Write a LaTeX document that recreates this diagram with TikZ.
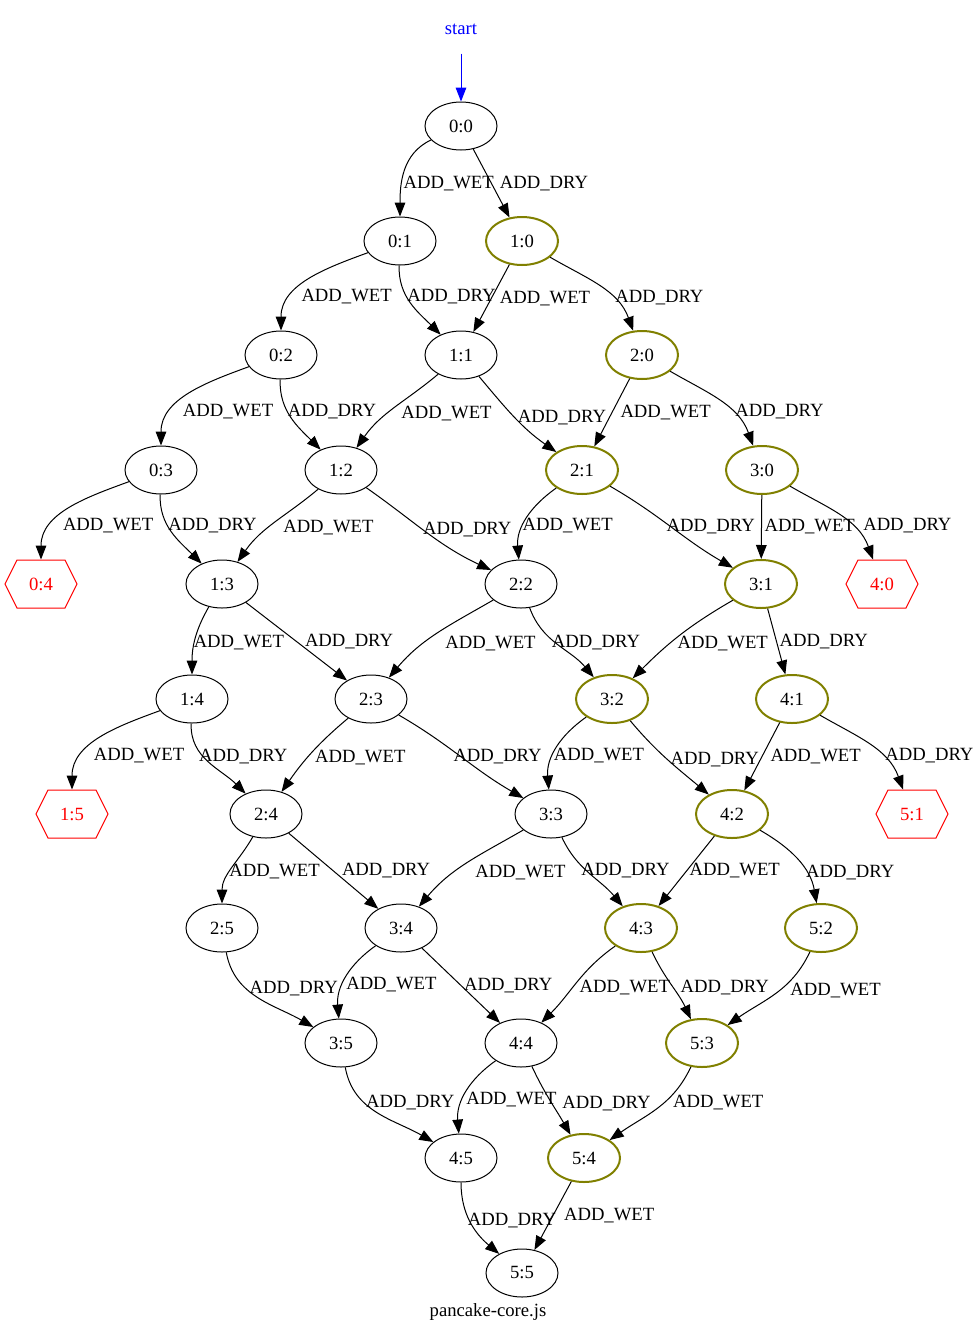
\documentclass[tikz,border=0pt]{standalone}
\usepackage{fontspec}
\setmainfont{Liberation Serif}
\usetikzlibrary{positioning, shapes.geometric, shapes.symbols, arrows.meta}
\definecolor{olivedone}{RGB}{128,128,0}

\begin{document}
\begin{tikzpicture}[x=0.75pt, y=0.75pt, line width=0.75pt, >={Triangle[length=10.5pt,width=8pt]}]
    \tikzstyle{every node}=[font=\fontsize{14}{16}\selectfont]
    \tikzstyle{state}=[draw, ellipse, minimum width=54pt, minimum height=36pt, inner sep=0pt]
    \tikzstyle{okstate}=[state, draw=olivedone, line width=1.5pt]
    \tikzstyle{badstate}=[signal, signal to=west and east, signal pointer angle=127, draw=red, text=red, minimum width=54pt, minimum height=36pt, inner sep=0pt]
    \tikzstyle{act}=[right, inner sep=2pt]
    \useasboundingbox (0,0) rectangle (976,-1332);

    \node (start)   [text=blue, minimum height=36pt, inner sep=0pt] at (461,-29) {start};
    \node (n00)     [state]    at (461,-126)  {0:0};
    \node (n01)     [state]    at (400,-241)  {0:1};
    \node (n10)     [okstate]  at (522,-241)  {1:0};
    \node (n02)     [state]    at (281,-355)  {0:2};
    \node (n11)     [state]    at (461,-355)  {1:1};
    \node (n20)     [okstate]  at (642,-355)  {2:0};
    \node (n03)     [state]    at (161,-470)  {0:3};
    \node (n12)     [state]    at (341,-470)  {1:2};
    \node (n21)     [okstate]  at (582,-470)  {2:1};
    \node (n30)     [okstate]  at (762,-470)  {3:0};
    \node (n04)     [badstate] at (41,-584)   {0:4};
    \node (n13)     [state]    at (222,-584)  {1:3};
    \node (n22)     [state]    at (521,-584)  {2:2};
    \node (n31)     [okstate]  at (761,-584)  {3:1};
    \node (n40)     [badstate] at (882,-584)  {4:0};
    \node (n14)     [state]    at (192,-699)  {1:4};
    \node (n23)     [state]    at (371,-699)  {2:3};
    \node (n32)     [okstate]  at (612,-699)  {3:2};
    \node (n41)     [okstate]  at (792,-699)  {4:1};
    \node (n15)     [badstate] at (72,-814)   {1:5};
    \node (n24)     [state]    at (266,-814)  {2:4};
    \node (n33)     [state]    at (551,-814)  {3:3};
    \node (n42)     [okstate]  at (732,-814)  {4:2};
    \node (n51)     [badstate] at (912,-814)  {5:1};
    \node (n25)     [state]    at (222,-928)  {2:5};
    \node (n34)     [state]    at (401,-928)  {3:4};
    \node (n43)     [okstate]  at (641,-928)  {4:3};
    \node (n52)     [okstate]  at (821,-928)  {5:2};
    \node (n35)     [state]    at (341,-1043) {3:5};
    \node (n44)     [state]    at (521,-1043) {4:4};
    \node (n53)     [okstate]  at (702,-1043) {5:3};
    \node (n45)     [state]    at (461,-1158) {4:5};
    \node (n54)     [okstate]  at (584,-1158) {5:4};
    \node (n55)     [state]    at (522,-1273) {5:5};
    \node (caption)            at (488,-1312) {pancake-core.js};

    \draw [->, blue] (start) -- (n00);

    % row 0 -> 1
    \draw [->] (n00) to[out=205,in=90]  node[act,pos=0.65,xshift=-1pt]{ADD\_WET} (n01);
    \draw [->] (n00) --                 node[act,xshift=4pt]{ADD\_DRY} (n10);
    % row 1 -> 2
    \draw [->] (n01) to[out=200,in=90]  node[act,pos=0.7,xshift=5pt]{ADD\_WET} (n02);
    \draw [->] (n01) to[out=-92,in=135] node[act,pos=0.4,xshift=-2pt]{ADD\_DRY} (n11);
    \draw [->] (n10) --                 node[act,xshift=4pt]{ADD\_WET} (n11);
    \draw [->] (n10) to[out=-30,in=110] node[act,pos=0.65]{ADD\_DRY} (n20);
    % row 2 -> 3
    \draw [->] (n02) to[out=200,in=90]  node[act,pos=0.7,xshift=6pt]{ADD\_WET} (n03);
    \draw [->] (n02) to[out=-92,in=135] node[act,pos=0.4,xshift=-2pt]{ADD\_DRY} (n12);
    \draw [->] (n11) to[out=220,in=55]  node[act,xshift=3pt,yshift=-4pt]{ADD\_WET} (n12);
    \draw [->] (n11) to[out=-50,in=145] node[act]{ADD\_DRY} (n21);
    \draw [->] (n20) --                 node[act,xshift=4pt]{ADD\_WET} (n21);
    \draw [->] (n20) to[out=-30,in=110] node[act,pos=0.65]{ADD\_DRY} (n30);
    % row 3 -> 4
    \draw [->] (n03) to[out=200,in=90]  node[act,pos=0.7,xshift=6pt]{ADD\_WET} (n04);
    \draw [->] (n03) to[out=-92,in=135] node[act,pos=0.4,xshift=-2pt]{ADD\_DRY} (n13);
    \draw [->] (n12) to[out=220,in=55]  node[act,xshift=4pt,yshift=-4pt]{ADD\_WET} (n13);
    \draw [->] (n12) to[out=-35,in=155] node[act,xshift=-5pt,yshift=2pt]{ADD\_DRY} (n22);
    \draw [->] (n21) to[out=215,in=95]  node[act,pos=0.6,xshift=-3pt]{ADD\_WET} (n22);
    \draw [->] (n21) to[out=-30,in=150] node[act,xshift=-6pt]{ADD\_DRY} (n31);
    \draw [->] (n30) --                 node[act]{ADD\_WET} (n31);
    \draw [->] (n30) to[out=-30,in=110] node[act,pos=0.65,xshift=6pt]{ADD\_DRY} (n40);
    % row 4 -> 5
    \draw [->] (n13) to[out=240,in=90]  node[act,pos=0.55,xshift=-3pt]{ADD\_WET} (n14);
    \draw [->] (n13) --                 node[act,xshift=4pt]{ADD\_DRY} (n23);
    \draw [->] (n22) to[out=210,in=50]  node[act,xshift=4pt,yshift=-7pt]{ADD\_WET} (n23);
    \draw [->] (n22) to[out=-70,in=130] node[act,pos=0.45,xshift=-4pt]{ADD\_DRY} (n32);
    \draw [->] (n31) to[out=210,in=45]  node[act,xshift=-4pt,yshift=-6pt]{ADD\_WET} (n32);
    \draw [->] (n31) --                 node[act]{ADD\_DRY} (n41);
    % row 5 -> 6
    \draw [->] (n14) to[out=200,in=90]  node[act,pos=0.7,xshift=6pt]{ADD\_WET} (n15);
    \draw [->] (n14) to[out=-92,in=135] node[act,pos=0.4,xshift=-5pt]{ADD\_DRY} (n24);
    \draw [->] (n23) to[out=220,in=55]  node[act,yshift=-4pt]{ADD\_WET} (n24);
    \draw [->] (n23) to[out=-30,in=150] node[act,xshift=-8pt]{ADD\_DRY} (n33);
    \draw [->] (n32) to[out=215,in=95]  node[act,pos=0.6,xshift=-2pt]{ADD\_WET} (n33);
    \draw [->] (n32) to[out=-50,in=140] node[act]{ADD\_DRY} (n42);
    \draw [->] (n41) --                 node[act,xshift=4pt]{ADD\_WET} (n42);
    \draw [->] (n41) to[out=-30,in=110] node[act,pos=0.65]{ADD\_DRY} (n51);
    % row 6 -> 7
    \draw [->] (n24) to[out=240,in=90]  node[act,pos=0.55,xshift=-3pt]{ADD\_WET} (n25);
    \draw [->] (n24) --                 node[act,xshift=4pt]{ADD\_DRY} (n34);
    \draw [->] (n33) to[out=210,in=50]  node[act,xshift=4pt,yshift=-7pt]{ADD\_WET} (n34);
    \draw [->] (n33) to[out=-65,in=130] node[act,pos=0.45,xshift=-6pt]{ADD\_DRY} (n43);
    \draw [->] (n42) --                 node[act]{ADD\_WET} (n43);
    \draw [->] (n42) to[out=-30,in=100] node[act,pos=0.6,yshift=-4pt]{ADD\_DRY} (n52);
    % row 7 -> 8
    \draw [->] (n25) to[out=-80,in=150] node[act,pos=0.4,xshift=-2pt,yshift=2pt]{ADD\_DRY} (n35);
    \draw [->] (n34) to[out=215,in=95]  node[act,pos=0.6]{ADD\_WET} (n35);
    \draw [->] (n34) --                 node[act]{ADD\_DRY} (n44);
    \draw [->] (n43) to[out=215,in=45]  node[act,yshift=-4pt]{ADD\_WET} (n44);
    \draw [->] (n43) to[out=-65,in=115] node[act,pos=0.45,xshift=6pt,yshift=-4pt]{ADD\_DRY} (n53);
    \draw [->] (n52) to[out=-115,in=35] node[act,pos=0.45,xshift=6pt]{ADD\_WET} (n53);
    % row 8 -> 9
    \draw [->] (n35) to[out=-80,in=150] node[act,pos=0.4,xshift=-4pt,yshift=3pt]{ADD\_DRY} (n45);
    \draw [->] (n44) to[out=215,in=95]  node[act,pos=0.6]{ADD\_WET} (n45);
    \draw [->] (n44) to[out=-65,in=120] node[act,pos=0.45,xshift=8pt,yshift=-4pt]{ADD\_DRY} (n54);
    \draw [->] (n53) to[out=-115,in=35] node[act,pos=0.45,xshift=7pt,yshift=2pt]{ADD\_WET} (n54);
    % row 9 -> 10
    \draw [->] (n45) to[out=-90,in=140] node[act,pos=0.4,xshift=-2pt,yshift=-4pt]{ADD\_DRY} (n55);
    \draw [->] (n54) --                 node[act,xshift=6pt]{ADD\_WET} (n55);
\end{tikzpicture}
\end{document}
